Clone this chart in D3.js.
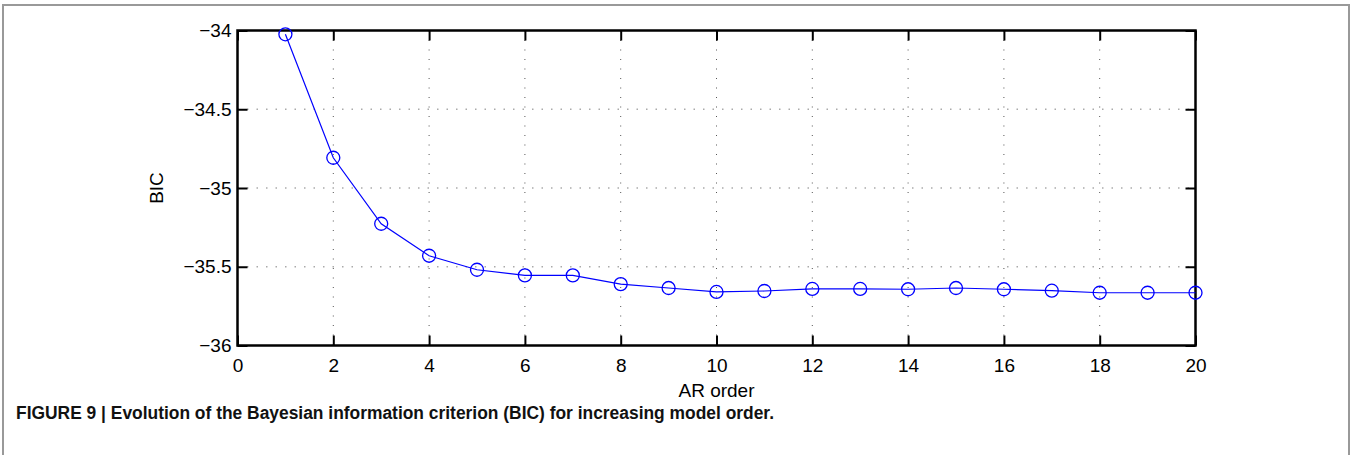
<!DOCTYPE html>
<html><head><meta charset="utf-8">
<script src="https://cdn.jsdelivr.net/npm/d3@7"></script>
<style>
html,body{margin:0;padding:0;background:#fff;}
svg{display:block;}
</style></head>
<body>
<svg id="chart" width="1352" height="455"></svg>
<script>
const arOrder = [1,2,3,4,5,6,7,8,9,10,11,12,13,14,15,16,17,18,19,20];
const bic = [-34.024,-34.808,-35.227,-35.430,-35.519,-35.555,-35.555,-35.610,-35.635,-35.660,-35.654,-35.641,-35.641,-35.643,-35.635,-35.643,-35.652,-35.665,-35.665,-35.665];
const xTicks = [0,2,4,6,8,10,12,14,16,18,20];
const yTicks = [-34,-34.5,-35,-35.5,-36];
const xLabel = "AR order";
const yLabel = "BIC";
const captionBold = "FIGURE 9 | Evolution of the Bayesian information criterion (BIC) for increasing model order";
const captionRest = ".";

const svg = d3.select("#chart");
const L = 237.5, R = 1195.5, T = 30.5, B = 345.5;
const x = d3.scaleLinear().domain([0,20]).range([L,R]);
const y = d3.scaleLinear().domain([-36,-34]).range([B,T]);
const fmt = d => String(d).replace("-", "\u2212");
const font = "'Liberation Sans', Arial, Helvetica, sans-serif";

// outer frame
svg.append("path").attr("d", `M3,455 V5 H1349 V455`).attr("fill","none").attr("stroke","#999").attr("stroke-width",2);

// grid
const g = svg.append("g");
g.selectAll(".vg").data(xTicks.filter(d=>d>0&&d<20)).join("line")
  .attr("x1",d=>x(d)).attr("x2",d=>x(d)).attr("y1",T).attr("y2",B)
  .attr("stroke","#555").attr("stroke-width",1).attr("stroke-dasharray","1,8.5");
g.selectAll(".hg").data(yTicks.filter(d=>d>-36&&d<-34)).join("line")
  .attr("x1",L).attr("x2",R).attr("y1",d=>y(d)).attr("y2",d=>y(d))
  .attr("stroke","#aaa").attr("stroke-width",1.5).attr("stroke-dasharray","1.5,8");

// axes with inward ticks
const ax = svg.append("g").attr("transform",`translate(0,${B})`)
  .call(d3.axisBottom(x).tickValues(xTicks).tickSize(-10).tickPadding(18).tickFormat(fmt));
const axT = svg.append("g").attr("transform",`translate(0,${T})`)
  .call(d3.axisTop(x).tickValues(xTicks).tickSize(-10).tickFormat(""));
const ay = svg.append("g").attr("transform",`translate(${L},0)`)
  .call(d3.axisLeft(y).tickValues(yTicks).tickSize(-10).tickPadding(6).tickFormat(fmt));
const ayR = svg.append("g").attr("transform",`translate(${R},0)`)
  .call(d3.axisRight(y).tickValues(yTicks).tickSize(-10).tickFormat(""));
[ax,axT,ay,ayR].forEach(a=>{
  a.select(".domain").remove();
  a.selectAll(".tick line").attr("stroke","#000").attr("stroke-width",2);
  a.selectAll("text").attr("fill","#000").style("font-family",font).style("font-size","19px");
});
ax.selectAll("text").attr("dy","0.45em");
// box
svg.append("rect").attr("x",L).attr("y",T).attr("width",R-L).attr("height",B-T)
  .attr("fill","none").attr("stroke","#000").attr("stroke-width",2.5);

// labels
svg.append("text").attr("x",(L+R)/2).attr("y",397).attr("text-anchor","middle")
  .style("font-family",font).style("font-size","19px").text(xLabel);
svg.append("text").attr("transform",`translate(163,${(T+B)/2}) rotate(-90)`).attr("text-anchor","middle")
  .style("font-family",font).style("font-size","19px").text(yLabel);

// data
const line = d3.line().x((d,i)=>x(arOrder[i])).y(d=>y(d));
svg.append("path").datum(bic).attr("d",line).attr("fill","none").attr("stroke","#0000ff").attr("stroke-width",1.2);
svg.selectAll(".pt").data(bic).join("circle")
  .attr("cx",(d,i)=>x(arOrder[i])).attr("cy",d=>y(d)).attr("r",6.5)
  .attr("fill","none").attr("stroke","#0000ff").attr("stroke-width",1.3);

// caption
const cap = svg.append("text").attr("x",16).attr("y",419)
  .style("font-family","'Liberation Sans Narrow', 'Liberation Sans', Arial, sans-serif").style("font-size","18px").attr("fill","#111");
cap.append("tspan").attr("font-weight","bold").attr("textLength",758).attr("lengthAdjust","spacingAndGlyphs").text(captionBold + captionRest);
</script>
</body></html>
